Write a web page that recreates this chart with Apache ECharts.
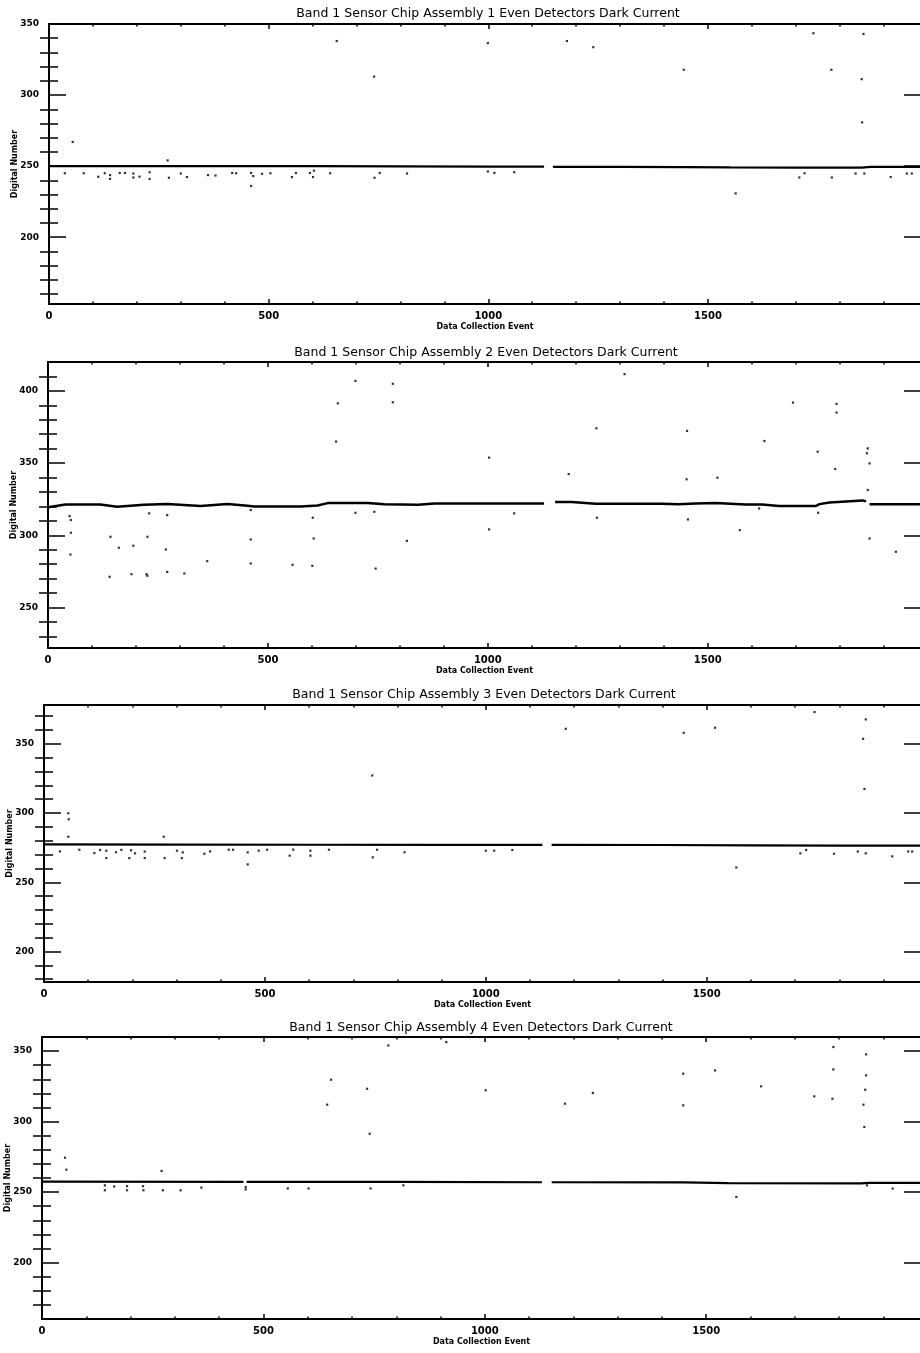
<!DOCTYPE html>
<html><head><meta charset="utf-8">
<script src="https://cdn.jsdelivr.net/npm/echarts@6/dist/echarts.min.js"></script>
<style>html,body{margin:0;padding:0;background:#fff}#c{width:920px;height:1353px}</style>
</head><body><div id="c"></div>
<script>
// ---------- DATA ----------
const titles = [
  'Band 1 Sensor Chip Assembly 1 Even Detectors Dark Current',
  'Band 1 Sensor Chip Assembly 2 Even Detectors Dark Current',
  'Band 1 Sensor Chip Assembly 3 Even Detectors Dark Current',
  'Band 1 Sensor Chip Assembly 4 Even Detectors Dark Current'
];
const xAxisName = 'Data Collection Event';
const yAxisName = 'Digital Number';

const xTickLabels = [0, 500, 1000, 1500];
const xMinorTicks = [100, 200, 300, 400, 600, 700, 800, 900, 1100, 1200, 1300, 1400, 1600, 1700, 1800, 1900];

const yTickLabels1 = [200, 250, 300, 350];
const yMinorTicks1 = [160, 170, 180, 190, 210, 220, 230, 240, 260, 270, 280, 290, 310, 320, 330, 340];
const yTickLabels2 = [250, 300, 350, 400];
const yMinorTicks2 = [230, 240, 260, 270, 280, 290, 310, 320, 330, 340, 360, 370, 380, 390, 410];
const yTickLabels3 = [200, 250, 300, 350];
const yMinorTicks3 = [180, 190, 210, 220, 230, 240, 260, 270, 280, 290, 310, 320, 330, 340, 360, 370];
const yTickLabels4 = [200, 250, 300, 350];
const yMinorTicks4 = [170, 180, 190, 210, 220, 230, 240, 260, 270, 280, 290, 310, 320, 330, 340];

const sca1Baseline = [[0,250],[200,250],[400,250],[600,250],[800,249.8],[1000,249.6],[1127,249.6],[1137,null],[1147,249.5],[1300,249.5],[1450,249.3],[1550,249.1],[1700,249],[1850,249],[1870,249.5],[1985,249.5]];
const sca1Outliers = [[54,267],[270,254],[655,338],[740,313],[36,245],[79,245],[112,242.5],[127,245],[139,243.7],[139,241],[161,245.2],[173,245.2],[192,244.8],[192,242],[206,242.6],[229,245.7],[229,241],[273,241.8],[300,244.8],[314,242.3],[362,243.7],[379,243.4],[417,245.2],[426,245],[460,245.2],[465,243],[460,236],[485,244.6],[504,245],[553,242.3],[562,245.2],[594,245.2],[601,242.3],[603,246.8],[640,245],[741,241.8],[753,245.2],[815,244.8],[999,336.5],[1179,338],[1239,333.7],[1445,317.8],[1740,343.5],[1854,343],[1781,317.8],[1850,311.2],[1851,280.8],[1563,230.8],[999,246.2],[1014,245.2],[1059,245.7],[1708,242],[1720,245],[1782,242],[1836,244.8],[1856,244.8],[1916,242.3],[1953,244.8],[1964,244.8]];

const sca2Baseline = [[0,319.5],[40,321.4],[119,321.4],[157,319.8],[218,321.2],[271,321.7],[347,320.3],[408,321.7],[454,320.5],[469,320],[575,320],[613,320.7],[636,322.3],[727,322.3],[765,321.6],[841,321.2],[879,322.1],[1128,322.1],[1140,null],[1153,323],[1191,323],[1245,321.9],[1396,321.9],[1434,321.6],[1472,322.1],[1518,322.3],[1586,321.4],[1624,321.4],[1662,320.3],[1746,320.3],[1754,321.6],[1777,322.8],[1852,324.2],[1860,323.5],[1864,null],[1868,321.6],[1985,321.6]];
const sca2Outliers = [[49,313.3],[52,310.6],[52,301.8],[51,286.7],[140,271.3],[142,299],[161,291.4],[190,273.1],[194,292.8],[224,273.1],[226,272],[230,315.2],[226,299],[268,290.2],[271,314],[271,274.7],[310,273.6],[362,282.1],[461,317.5],[461,297.1],[461,280.5],[556,279.6],[602,312.2],[604,297.8],[601,278.9],[655,364.9],[659,391.4],[699,406.9],[699,315.6],[742,316.3],[745,277],[784,404.9],[784,392.1],[816,296.2],[1003,353.8],[1003,304.1],[1060,315.2],[1184,342.4],[1247,374.1],[1248,312.2],[1311,411.6],[1453,372.3],[1452,338.8],[1455,311],[1522,339.9],[1573,303.6],[1617,318.6],[1629,365.3],[1694,391.9],[1750,357.9],[1751,315.6],[1790,345.9],[1793,391],[1793,385],[1864,360.2],[1862,356.8],[1868,349.8],[1864,331.4],[1868,297.8],[1928,288.6]];

const sca3Baseline = [[0,277.3],[300,277.2],[600,277.1],[900,277],[1128,277],[1138,null],[1149,277],[1400,276.9],[1600,276.7],[1800,276.5],[1985,276.5]];
const sca3Outliers = [[55,299.8],[56,295.5],[55,282.9],[36,272.3],[80,273.5],[114,271.1],[127,273.3],[141,267.5],[141,272.8],[163,271.7],[175,273.4],[193,267.5],[197,273.1],[206,270.9],[228,272.2],[228,267.5],[271,282.9],[273,267.5],[301,272.8],[312,267.5],[314,271.6],[363,270.6],[376,272.3],[418,273.5],[428,273.5],[461,262.9],[461,271.6],[486,272.8],[505,273.5],[556,269.2],[564,273.6],[603,269.2],[603,272.8],[645,273.5],[743,327.1],[744,268],[754,273.5],[816,271.7],[1000,272.8],[1019,272.8],[1060,273.3],[1181,360.8],[1448,357.9],[1519,361.6],[1567,260.7],[1712,270.9],[1725,273.3],[1788,270.6],[1842,272.2],[1860,367.6],[1854,353.6],[1857,317.4],[1860,270.9],[1920,268.7],[1956,272.2],[1965,272.2],[1744,372.9]];

const sca4Baseline = [[0,257.4],[455,257.3],[458,null],[462,257.3],[800,257.2],[1129,257],[1140,null],[1151,257],[1450,256.9],[1550,256.4],[1850,256.2],[1865,256.6],[1985,256.6]];
const sca4Outliers = [[52,274.4],[55,265.9],[142,254.8],[142,251.3],[163,254],[192,254.2],[192,251.3],[228,254.2],[229,251.3],[270,265],[273,251.3],[313,251.3],[360,253.2],[460,253.6],[460,251.9],[555,252.6],[602,252.6],[644,312],[653,329.7],[734,323.3],[740,291.4],[742,252.6],[782,354],[816,254.8],[913,356.4],[1002,322.2],[1181,312.7],[1244,320.3],[1448,334],[1448,311.5],[1520,336.3],[1568,246.6],[1624,325],[1744,317.9],[1785,316.2],[1787,352.9],[1787,337],[1861,347.7],[1861,332.8],[1859,322.6],[1855,312],[1857,296.2],[1863,254.8],[1921,252.5]];

// ---------- LAYOUT ----------
const X_MAX = 1985;
const RIGHT_EDGE = 921;
const FONT = 'DejaVu Sans';
const panels = [
  {left:49, top:24, bottom:304, yMin:153, yMax:350, titleX:488, titleY:14, yLab:yTickLabels1, yMin2:yMinorTicks1, base:sca1Baseline, out:sca1Outliers, bw:2.2},
  {left:48, top:362, bottom:648, yMin:222, yMax:420, titleX:486, titleY:353, yLab:yTickLabels2, yMin2:yMinorTicks2, base:sca2Baseline, out:sca2Outliers, bw:2.5},
  {left:44, top:705, bottom:982, yMin:178, yMax:378, titleX:484, titleY:695, yLab:yTickLabels3, yMin2:yMinorTicks3, base:sca3Baseline, out:sca3Outliers, bw:2.2},
  {left:42, top:1037, bottom:1319, yMin:160, yMax:360, titleX:481, titleY:1028, yLab:yTickLabels4, yMin2:yMinorTicks4, base:sca4Baseline, out:sca4Outliers, bw:2.2}
];

const black = '#000';
const plain = v => String(v);
const grids = [], xAxes = [], yAxes = [], series = [], graphics = [];
panels.forEach((p, i) => {
  grids.push({left:p.left, top:p.top, width:RIGHT_EDGE - p.left, height:p.bottom - p.top, containLabel:false, outerBoundsMode:'none'});
  const xBase = {gridIndex:i, type:'value', min:0, max:X_MAX, splitLine:{show:false}, axisLabel:{show:false}, axisLine:{show:false}};
  xAxes.push(Object.assign({}, xBase, {
    position:'bottom',
    axisLine:{show:true, onZero:false, lineStyle:{color:black, width:2}},
    axisTick:{show:true, inside:true, length:5, customValues:xTickLabels, lineStyle:{color:black, width:1.5}},
    axisLabel:{show:true, customValues:xTickLabels, formatter:plain, margin:7, color:black, fontSize:10, fontWeight:'bold', fontFamily:FONT},
    name:xAxisName, nameLocation:'middle', nameGap:19, nameMoveOverlap:false,
    nameTextStyle:{color:black, fontSize:8, fontWeight:'bold', fontFamily:FONT}
  }));
  const xi = xAxes.length - 1;
  xAxes.push(Object.assign({}, xBase, {position:'bottom', axisTick:{show:true, inside:true, length:2.5, customValues:xMinorTicks, lineStyle:{color:black, width:1.5}}}));
  xAxes.push(Object.assign({}, xBase, {position:'top', axisLine:{show:true, onZero:false, lineStyle:{color:black, width:2}}, axisTick:{show:true, inside:true, length:5, customValues:xTickLabels, lineStyle:{color:black, width:1.5}}}));
  xAxes.push(Object.assign({}, xBase, {position:'top', axisTick:{show:true, inside:true, length:2.5, customValues:xMinorTicks, lineStyle:{color:black, width:1.5}}}));

  const yBase = {gridIndex:i, type:'value', min:p.yMin, max:p.yMax, splitLine:{show:false}, axisLabel:{show:false}, axisLine:{show:false}};
  yAxes.push(Object.assign({}, yBase, {
    position:'left',
    axisLine:{show:true, onZero:false, lineStyle:{color:black, width:2}},
    axisTick:{show:true, inside:true, length:17, customValues:p.yLab, lineStyle:{color:black, width:1.5}},
    axisLabel:{show:true, customValues:p.yLab, formatter:plain, margin:10, color:black, fontSize:9, fontWeight:'bold', fontFamily:FONT},
    name:yAxisName, nameLocation:'middle', nameGap:30, nameMoveOverlap:false,
    nameTextStyle:{color:black, fontSize:8, fontWeight:'bold', fontFamily:FONT}
  }));
  const yi = yAxes.length - 1;
  yAxes.push(Object.assign({}, yBase, {position:'left', axisTick:{show:true, inside:true, length:9, customValues:p.yMin2, lineStyle:{color:black, width:1.5}}}));
  yAxes.push(Object.assign({}, yBase, {position:'right', axisLine:{show:true, onZero:false, lineStyle:{color:black, width:2}}, axisTick:{show:true, inside:true, length:17, customValues:p.yLab, lineStyle:{color:black, width:1.5}}}));
  yAxes.push(Object.assign({}, yBase, {position:'right', axisTick:{show:true, inside:true, length:9, customValues:p.yMin2, lineStyle:{color:black, width:1.5}}}));

  series.push({type:'line', xAxisIndex:xi, yAxisIndex:yi, data:p.base, showSymbol:false, connectNulls:false,
    lineStyle:{color:black, width:p.bw}, silent:true, z:3});
  series.push({type:'scatter', xAxisIndex:xi, yAxisIndex:yi, data:p.out, symbol:'rect', symbolSize:2.2,
    itemStyle:{color:black}, silent:true, z:4});

  graphics.push({type:'text', x:p.titleX, y:p.titleY, style:{text:titles[i], fill:black, fontSize:12.5, fontFamily:FONT, align:'center', verticalAlign:'middle'}});
});

const chart = echarts.init(document.getElementById('c'), null, {renderer:'canvas'});
chart.setOption({
  animation:false,
  backgroundColor:'#fff',
  grid:grids, xAxis:xAxes, yAxis:yAxes, series:series, graphic:graphics
});
</script></body></html>
